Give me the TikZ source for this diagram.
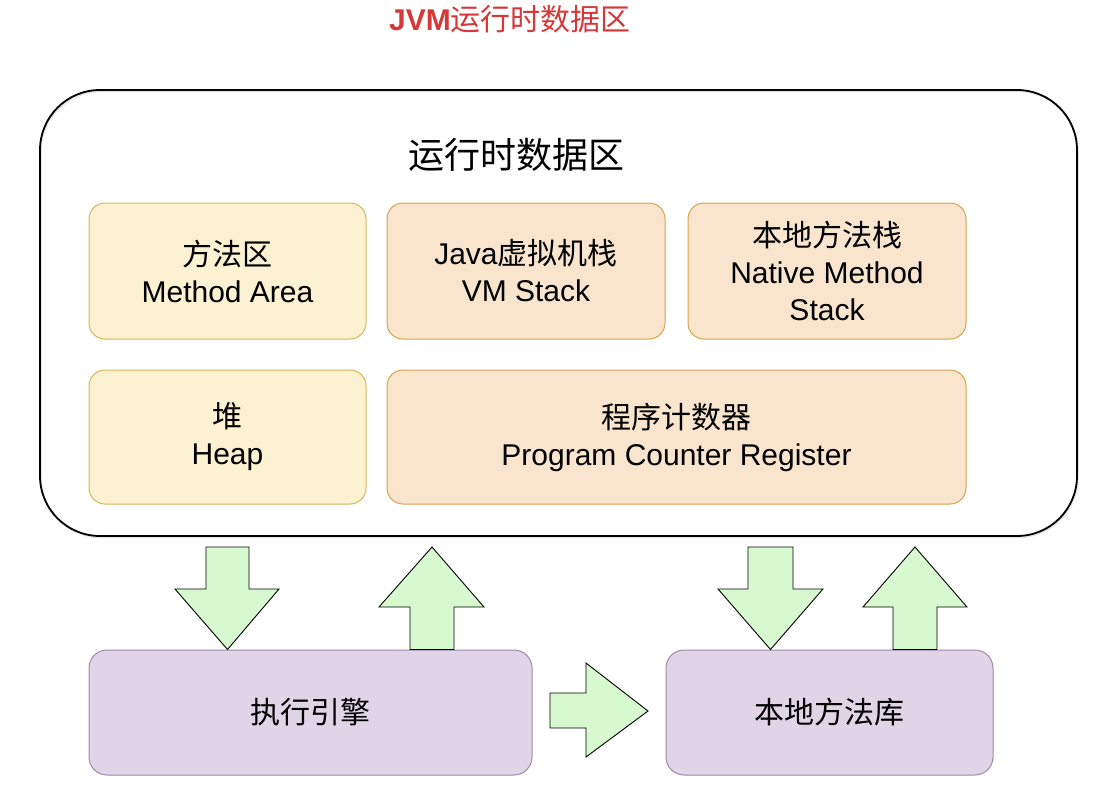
\documentclass[tikz,border=0pt]{standalone}
\usepackage{fontspec}
\setmainfont{Liberation Sans}
\newfontfamily\cjk{Noto Sans CJK SC}
\definecolor{yfill}{HTML}{FCF1D0}
\definecolor{ydraw}{HTML}{D6B656}
\definecolor{pfill}{HTML}{F9E5CD}
\definecolor{pdraw}{HTML}{D6A24E}
\definecolor{vfill}{HTML}{E0D5E7}
\definecolor{vdraw}{HTML}{9C88AE}
\definecolor{gfill}{HTML}{D8F8D0}
\definecolor{tred}{HTML}{D6383A}
\begin{document}
\begin{tikzpicture}[x=1pt,y=-1pt,
  lbl/.style={font=\fontsize{30}{37}\selectfont, align=center, text=black},
  box/.style={lbl, rounded corners=16pt, line width=1pt, inner sep=0pt},
  ybox/.style={box, draw=ydraw, fill=yfill},
  obox/.style={box, draw=pdraw, fill=pfill},
  vbox/.style={box, draw=vdraw, fill=vfill, rounded corners=18pt},
  garrow/.style={draw=black, line width=0.9pt, fill=gfill, line join=miter}
]
\useasboundingbox (0,0) rectangle (1114,804);

% title
\node[text=tred, font=\fontsize{30}{34}\selectfont] (title) at (510,19) {\textbf{JVM}{\cjk 运行时数据区}};

% runtime data area
\node[draw=black!10, line width=1.5pt, rounded corners=60pt, minimum width=1037pt, minimum height=446pt, inner sep=0pt] (rtshadow) at (559.5,314.5) {};
\node[draw=black, line width=1.8pt, rounded corners=60pt, minimum width=1037pt, minimum height=446pt, inner sep=0pt] (rt) at (558.5,313) {};
\node[font=\fontsize{36}{40}\selectfont] (rtt) at (516,155) {\cjk 运行时数据区};

\node[ybox, minimum width=277pt, minimum height=136pt] (ma) at (227.5,271) {{\cjk 方法区}\\Method Area};
\node[obox, minimum width=278pt, minimum height=136pt] (vm) at (526,271) {Java{\cjk 虚拟机栈}\\VM Stack};
\node[obox, minimum width=278pt, minimum height=136pt] (nms) at (827,271) {{\cjk 本地方法栈}\\Native Method\\Stack};
\node[ybox, minimum width=277pt, minimum height=134pt] (heap) at (227.5,437) {{\cjk 堆}\\Heap};
\node[obox, minimum width=579pt, minimum height=134pt] (pc) at (676.5,437) {{\cjk 程序计数器}\\Program Counter Register};

% bottom boxes
\node[vbox, minimum width=443pt, minimum height=125pt] (exec) at (310.5,712.5) {\cjk 执行引擎};
\node[vbox, minimum width=327pt, minimum height=125pt] (nlib) at (829.5,712.5) {\cjk 本地方法库};

% block arrows
\draw[garrow] (206,547) -- (249,547) -- (249,589) -- (279,589) -- (227.5,649.5) -- (175,589) -- (206,589) -- cycle;
\draw[garrow] (410,649.5) -- (454,649.5) -- (454,607) -- (484,607) -- (432,547) -- (379,607) -- (410,607) -- cycle;
\draw[garrow] (748,547) -- (793,547) -- (793,589) -- (823,589) -- (770.5,649.5) -- (718,589) -- (748,589) -- cycle;
\draw[garrow] (893,649.5) -- (937,649.5) -- (937,607) -- (967,607) -- (915,547) -- (863,607) -- (893,607) -- cycle;
\draw[garrow] (550,693) -- (586,693) -- (586,663) -- (648,711) -- (586,757) -- (586,728) -- (550,728) -- cycle;
\end{tikzpicture}
\end{document}
